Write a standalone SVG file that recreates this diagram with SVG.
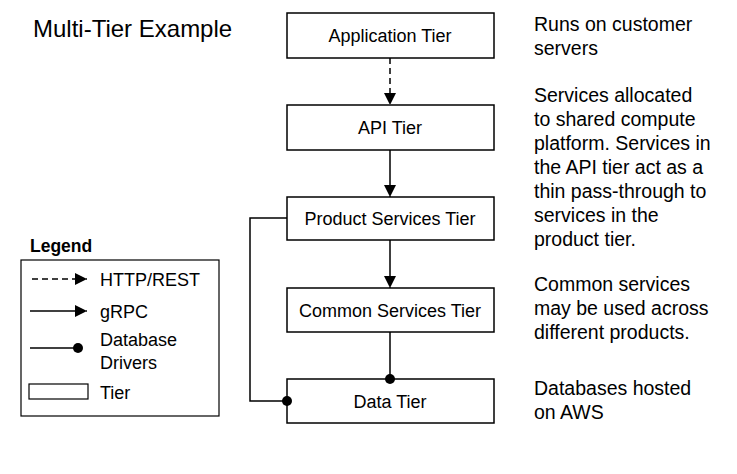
<svg xmlns="http://www.w3.org/2000/svg" width="737" height="474" viewBox="0 0 737 474">
<style>
text{font-family:"Liberation Sans",Arial,sans-serif;fill:#000}
.node{fill:#fff;stroke:#000;stroke-width:1.5}
.nt{font-size:18px;text-anchor:middle}
.side{font-size:19.5px}
.lg{font-size:18px}
.ln{fill:none;stroke:#000;stroke-width:1.5}
</style>
<defs>
<marker id="arr" viewBox="0 0 10 12" refX="12" refY="6" markerWidth="10" markerHeight="12" markerUnits="userSpaceOnUse" orient="auto"><path d="M0,0 L12,6 L0,12 z" fill="#000"/></marker>
<marker id="dot" viewBox="0 0 12 12" refX="6" refY="6" markerWidth="12" markerHeight="12" markerUnits="userSpaceOnUse" orient="auto"><circle cx="6" cy="6" r="5" fill="#000"/></marker>
</defs>
<rect width="737" height="474" fill="#fff"/>
<text x="33" y="37" style="font-size:24px">Multi-Tier Example</text>
<g id="app"><rect class="node" x="287" y="13" width="207" height="45"/><text class="nt" x="390" y="42">Application Tier</text></g>
<g id="api"><rect class="node" x="287" y="105" width="207" height="45"/><text class="nt" x="390" y="134">API Tier</text></g>
<g id="product"><rect class="node" x="287" y="197" width="207" height="43"/><text class="nt" x="390" y="225">Product Services Tier</text></g>
<g id="common"><rect class="node" x="287" y="288" width="207" height="44"/><text class="nt" x="390" y="317">Common Services Tier</text></g>
<g id="data"><rect class="node" x="287" y="379" width="207" height="44"/><text class="nt" x="390" y="408">Data Tier</text></g>
<g id="connectors">
<path class="ln" d="M390,58 V105" stroke-dasharray="6,4" marker-end="url(#arr)"/>
<path class="ln" d="M390,150 V197" marker-end="url(#arr)"/>
<path class="ln" d="M390,240 V288" marker-end="url(#arr)"/>
<path class="ln" d="M390,332 V379" marker-end="url(#dot)"/>
<path class="ln" d="M287,218 H250 V401 H287" marker-end="url(#dot)"/>
</g>
<g id="notes" class="side">
<text x="534" y="31">Runs on customer</text>
<text x="534" y="55">servers</text>
<text x="534" y="102">Services allocated</text>
<text x="534" y="126">to shared compute</text>
<text x="534" y="150">platform. Services in</text>
<text x="534" y="174">the API tier act as a</text>
<text x="534" y="198">thin pass-through to</text>
<text x="534" y="222">services in the</text>
<text x="534" y="246">product tier.</text>
<text x="534" y="291">Common services</text>
<text x="534" y="315">may be used across</text>
<text x="534" y="339">different products.</text>
<text x="534" y="395">Databases hosted</text>
<text x="534" y="419">on AWS</text>
</g>
<g id="legend">
<text x="30" y="252" style="font-size:17.5px;font-weight:bold">Legend</text>
<rect x="21" y="260" width="198" height="156" fill="none" stroke="#000" stroke-width="1.2"/>
<path class="ln" d="M32,279 H87" stroke-dasharray="6,4" marker-end="url(#arr)"/>
<text class="lg" x="100" y="286">HTTP/REST</text>
<path class="ln" d="M30,311 H87" marker-end="url(#arr)"/>
<text class="lg" x="100" y="318">gRPC</text>
<path class="ln" d="M30,348 H78" marker-end="url(#dot)"/>
<text class="lg" x="100" y="346">Database</text>
<text class="lg" x="100" y="369">Drivers</text>
<rect x="29" y="384" width="59" height="15" fill="#fff" stroke="#000" stroke-width="1.2"/>
<text class="lg" x="100" y="399">Tier</text>
</g>
</svg>
